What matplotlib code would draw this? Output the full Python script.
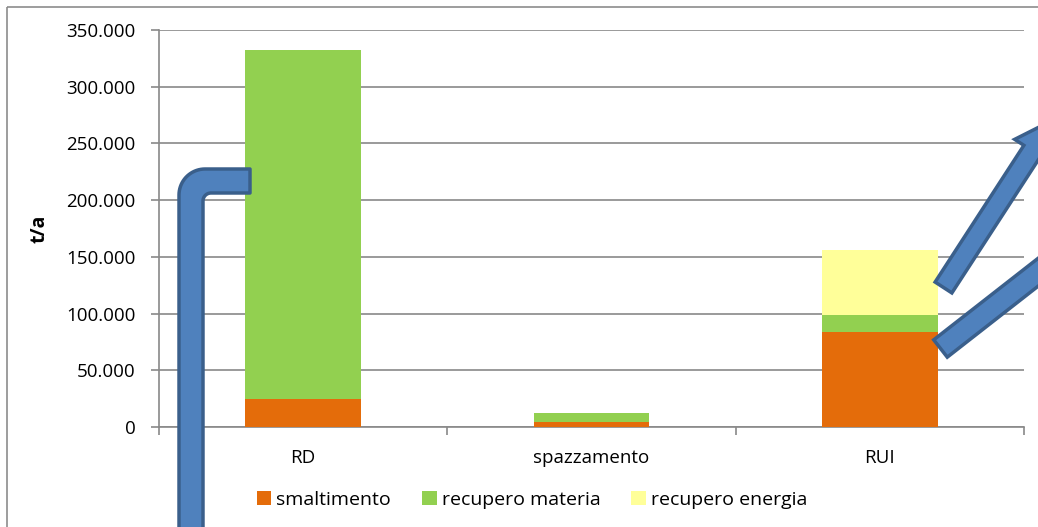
import numpy as np
import matplotlib.pyplot as plt
from matplotlib.patches import Patch, Polygon, Rectangle
from matplotlib.ticker import FuncFormatter

plt.rcParams['font.family'] = ['Open Sans', 'DejaVu Sans']

# data (t/a)
categories = ['RD', 'spazzamento', 'RUI']
smaltimento = [25000, 4000, 83500]
recupero_materia = [307000, 8300, 15300]
recupero_energia = [0, 0, 57300]

series_names = ['smaltimento', 'recupero materia', 'recupero energia']
colors = ['#E46C0A', '#92D050', '#FFFF99']
GRID = '#898989'
BLUE = '#4F81BD'
BLUE_EDGE = '#3A5F8B'

fig = plt.figure(figsize=(10.38, 5.27), dpi=100)
W, H = 1038, 527
ax = fig.add_axes([159 / W, 1 - 427 / H, (1024 - 159) / W, (427 - 30) / H])

x = np.arange(len(categories))
bottom = np.zeros(len(categories))
for vals, name, c in zip([smaltimento, recupero_materia, recupero_energia], series_names, colors):
    ax.bar(x, vals, width=0.4, bottom=bottom, color=c, label=name, zorder=3)
    bottom += np.array(vals)

ax.set_xlim(-0.5, 2.5)
ax.set_ylim(0, 350000)
ax.set_yticks(np.arange(0, 350001, 50000))
ax.yaxis.set_major_formatter(FuncFormatter(lambda v, p: f'{int(v):,}'.replace(',', '.')))
ax.grid(axis='y', color=GRID, lw=1.2, zorder=0)
ax.set_xticks(x)
ax.set_xticklabels(categories)
ax.set_xticks([-0.5, 0.5, 1.5, 2.5], minor=True)
ax.tick_params(axis='x', which='major', length=0, labelsize=13.5, pad=16)
ax.tick_params(axis='x', which='minor', length=6, color=GRID, width=1.2)
ax.tick_params(axis='y', length=6, color=GRID, width=1.2, labelsize=13.5, pad=11)
for s in ['top', 'right']:
    ax.spines[s].set_visible(False)
for s in ['left', 'bottom']:
    ax.spines[s].set_color(GRID)
    ax.spines[s].set_linewidth(1.2)
ax.set_ylabel('t/a', fontsize=14, fontweight='bold', labelpad=12)

handles = [Patch(facecolor=c, label=n) for c, n in zip(colors, series_names)]
fig.legend(handles=handles, loc='center', bbox_to_anchor=(532 / W, 1 - 500 / H), ncol=3,
           frameon=False, fontsize=14, handlelength=0.75, handleheight=0.75,
           handletextpad=0.25, columnspacing=1.6)

# decoration overlay (pixel coords, y down)
ov = fig.add_axes([0, 0, 1, 1], zorder=10)
ov.set_xlim(0, W)
ov.set_ylim(H, 0)
ov.axis('off')
ov.patch.set_visible(False)

ov.add_patch(Rectangle((7, 7), W + 20, H + 20, fill=False, ec='#8C8C8C', lw=1.2))

# bent pipe on the left
ro, ri = 26, 8
cx, cy = 179 + ro, 169 + ro
t = np.linspace(np.pi, 1.5 * np.pi, 20)
outer = np.column_stack([cx + ro * np.cos(t), cy + ro * np.sin(t)])
icx, icy = 203 + ri, 193 + ri
inner = np.column_stack([icx + ri * np.cos(t), icy + ri * np.sin(t)])[::-1]
pts = np.vstack([[[179, H + 10]], outer, [[250, 169], [250, 193]], inner, [[203, H + 10]]])
ov.add_patch(Polygon(pts, closed=True, fc=BLUE, ec=BLUE_EDGE, lw=2.5, joinstyle='round'))


def block_arrow(tail, ang, width, head_at, head_w, head_len):
    d = np.array([np.cos(ang), -np.sin(ang)])
    n = np.array([d[1], -d[0]])
    tail = np.array(tail)
    hw = width / 2
    p = [tail + hw * n, tail + head_at * d + hw * n, tail + head_at * d + head_w / 2 * n,
         tail + (head_at + head_len) * d,
         tail + head_at * d - head_w / 2 * n, tail + head_at * d - hw * n, tail - hw * n]
    ov.add_patch(Polygon(p, closed=True, fc=BLUE, ec=BLUE_EDGE, lw=2.5, joinstyle='miter'))


block_arrow((943.5, 287.5), np.radians(57), 20, 163, 42, 36)
block_arrow((940.5, 348.5), np.radians(38), 22, 190, 44, 36)

fig.savefig('out.png', dpi=100)
